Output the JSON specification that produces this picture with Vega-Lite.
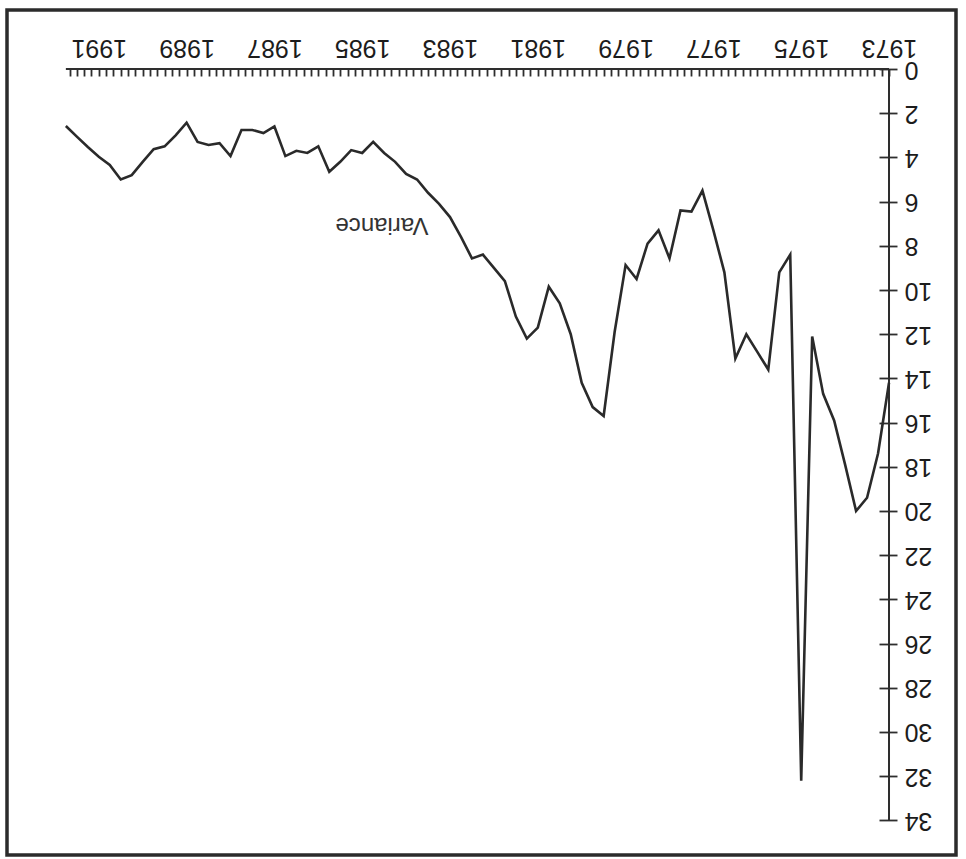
{
  "$schema": "https://vega.github.io/schema/vega-lite/v6.json",
  "autosize": {"type": "none"},
  "padding": {"left": 7, "top": 10, "right": 10, "bottom": 4},
  "width": 949,
  "height": 845,
  "background": "white",
  "config": {
    "view": {"stroke": "#2b2b2b", "strokeWidth": 3.5},
    "font": "Liberation Sans",
    "axis": {
      "grid": false,
      "domain": false,
      "title": null,
      "labelFont": "Liberation Sans",
      "labelFontSize": 25,
      "labelColor": "#1c1c1c",
      "tickColor": "#2e2e2e",
      "tickWidth": 1.8,
      "labelOverlap": false,
      "labelFlush": false,
      "labelBound": false
    }
  },
  "datasets": {
    "variance": [
      {"year": 1973.00, "value": 14.2}, {"year": 1973.25, "value": 17.4}, {"year": 1973.50, "value": 19.4}, {"year": 1973.75, "value": 20.0},
      {"year": 1974.00, "value": 17.9}, {"year": 1974.25, "value": 15.9}, {"year": 1974.50, "value": 14.7}, {"year": 1974.75, "value": 12.1},
      {"year": 1975.00, "value": 32.2}, {"year": 1975.25, "value": 8.4}, {"year": 1975.50, "value": 9.2}, {"year": 1975.75, "value": 13.6},
      {"year": 1976.00, "value": 12.8}, {"year": 1976.25, "value": 12.0}, {"year": 1976.50, "value": 13.1}, {"year": 1976.75, "value": 9.2},
      {"year": 1977.00, "value": 7.3}, {"year": 1977.25, "value": 5.5}, {"year": 1977.50, "value": 6.45}, {"year": 1977.75, "value": 6.4},
      {"year": 1978.00, "value": 8.57}, {"year": 1978.25, "value": 7.3}, {"year": 1978.50, "value": 7.9}, {"year": 1978.75, "value": 9.5},
      {"year": 1979.00, "value": 8.87}, {"year": 1979.25, "value": 11.9}, {"year": 1979.50, "value": 15.7}, {"year": 1979.75, "value": 15.3},
      {"year": 1980.00, "value": 14.2}, {"year": 1980.25, "value": 12.0}, {"year": 1980.50, "value": 10.6}, {"year": 1980.75, "value": 9.85},
      {"year": 1981.00, "value": 11.7}, {"year": 1981.25, "value": 12.2}, {"year": 1981.50, "value": 11.2}, {"year": 1981.75, "value": 9.6},
      {"year": 1982.00, "value": 9.0}, {"year": 1982.25, "value": 8.4}, {"year": 1982.50, "value": 8.57}, {"year": 1982.75, "value": 7.6},
      {"year": 1983.00, "value": 6.7}, {"year": 1983.25, "value": 6.1}, {"year": 1983.50, "value": 5.6}, {"year": 1983.75, "value": 5.0},
      {"year": 1984.00, "value": 4.75}, {"year": 1984.25, "value": 4.2}, {"year": 1984.50, "value": 3.8}, {"year": 1984.75, "value": 3.3},
      {"year": 1985.00, "value": 3.8}, {"year": 1985.25, "value": 3.67}, {"year": 1985.50, "value": 4.2}, {"year": 1985.75, "value": 4.65},
      {"year": 1986.00, "value": 3.5}, {"year": 1986.25, "value": 3.8}, {"year": 1986.50, "value": 3.7}, {"year": 1986.75, "value": 3.94},
      {"year": 1987.00, "value": 2.6}, {"year": 1987.25, "value": 2.9}, {"year": 1987.50, "value": 2.76}, {"year": 1987.75, "value": 2.76},
      {"year": 1988.00, "value": 3.94}, {"year": 1988.25, "value": 3.36}, {"year": 1988.50, "value": 3.44}, {"year": 1988.75, "value": 3.3},
      {"year": 1989.00, "value": 2.43}, {"year": 1989.25, "value": 3.0}, {"year": 1989.50, "value": 3.5}, {"year": 1989.75, "value": 3.63},
      {"year": 1990.00, "value": 4.2}, {"year": 1990.25, "value": 4.8}, {"year": 1990.50, "value": 5.0}, {"year": 1990.75, "value": 4.34},
      {"year": 1991.00, "value": 3.97}, {"year": 1991.25, "value": 3.53}, {"year": 1991.50, "value": 3.06}, {"year": 1991.75, "value": 2.58}
    ],
    "labels": [
      {"series": "Variance", "year": 1984.55, "value": 7.05}
    ]
  },
  "layer": [
    {
      "data": {"values": [{}]},
      "mark": {"type": "rule", "color": "#2e2e2e", "strokeWidth": 2},
      "encoding": {
        "x": {"datum": 1973, "type": "quantitative"},
        "x2": {"datum": 1991.75},
        "y": {"datum": 0, "type": "quantitative"}
      }
    },
    {
      "data": {"values": [{}]},
      "mark": {"type": "rule", "color": "#2e2e2e", "strokeWidth": 2},
      "encoding": {
        "x": {"datum": 1973, "type": "quantitative"},
        "y": {"datum": 0, "type": "quantitative"},
        "y2": {"datum": 34}
      }
    },
    {
      "data": {"name": "variance"},
      "mark": {"type": "line", "color": "#2a2a2a", "strokeWidth": 2.6, "strokeJoin": "miter"},
      "encoding": {
        "x": {
          "field": "year",
          "type": "quantitative",
          "scale": {"domain": [1971.474, 1993.091], "reverse": true, "nice": false, "zero": false},
          "axis": {
            "orient": "top",
            "offset": -59,
            "tickSize": -7,
            "tickCount": 300,
            "labelPadding": 17,
            "labelAngle": 180,
            "labelAlign": "center",
            "labelBaseline": "top",
            "values": [
              1973, 1973.1667, 1973.3333, 1973.5, 1973.6667, 1973.8333,
              1974, 1974.1667, 1974.3333, 1974.5, 1974.6667, 1974.8333,
              1975, 1975.1667, 1975.3333, 1975.5, 1975.6667, 1975.8333,
              1976, 1976.1667, 1976.3333, 1976.5, 1976.6667, 1976.8333,
              1977, 1977.1667, 1977.3333, 1977.5, 1977.6667, 1977.8333,
              1978, 1978.1667, 1978.3333, 1978.5, 1978.6667, 1978.8333,
              1979, 1979.1667, 1979.3333, 1979.5, 1979.6667, 1979.8333,
              1980, 1980.1667, 1980.3333, 1980.5, 1980.6667, 1980.8333,
              1981, 1981.1667, 1981.3333, 1981.5, 1981.6667, 1981.8333,
              1982, 1982.1667, 1982.3333, 1982.5, 1982.6667, 1982.8333,
              1983, 1983.1667, 1983.3333, 1983.5, 1983.6667, 1983.8333,
              1984, 1984.1667, 1984.3333, 1984.5, 1984.6667, 1984.8333,
              1985, 1985.1667, 1985.3333, 1985.5, 1985.6667, 1985.8333,
              1986, 1986.1667, 1986.3333, 1986.5, 1986.6667, 1986.8333,
              1987, 1987.1667, 1987.3333, 1987.5, 1987.6667, 1987.8333,
              1988, 1988.1667, 1988.3333, 1988.5, 1988.6667, 1988.8333,
              1989, 1989.1667, 1989.3333, 1989.5, 1989.6667, 1989.8333,
              1990, 1990.1667, 1990.3333, 1990.5, 1990.6667, 1990.8333,
              1991, 1991.1667, 1991.3333, 1991.5, 1991.6667
            ],
            "labelExpr": "abs(datum.value - round(datum.value)) < 0.001 && round(datum.value) % 2 == 1 ? '' + round(datum.value) : ''"
          }
        },
        "y": {
          "field": "value",
          "type": "quantitative",
          "scale": {"domain": [-2.67, 35.566], "reverse": true, "nice": false, "zero": false},
          "axis": {
            "orient": "right",
            "offset": -77,
            "tickSize": 18,
            "format": "d",
            "labelPadding": 7,
            "labelAngle": 180,
            "labelAlign": "right",
            "labelBaseline": "middle",
            "values": [0, 2, 4, 6, 8, 10, 12, 14, 16, 18, 20, 22, 24, 26, 28, 30, 32, 34]
          }
        }
      }
    },
    {
      "data": {"name": "labels"},
      "mark": {"type": "text", "angle": 180, "align": "center", "baseline": "middle", "font": "Liberation Sans", "fontSize": 24, "color": "#333333"},
      "encoding": {
        "x": {"field": "year", "type": "quantitative"},
        "y": {"field": "value", "type": "quantitative"},
        "text": {"field": "series"}
      }
    }
  ]
}
